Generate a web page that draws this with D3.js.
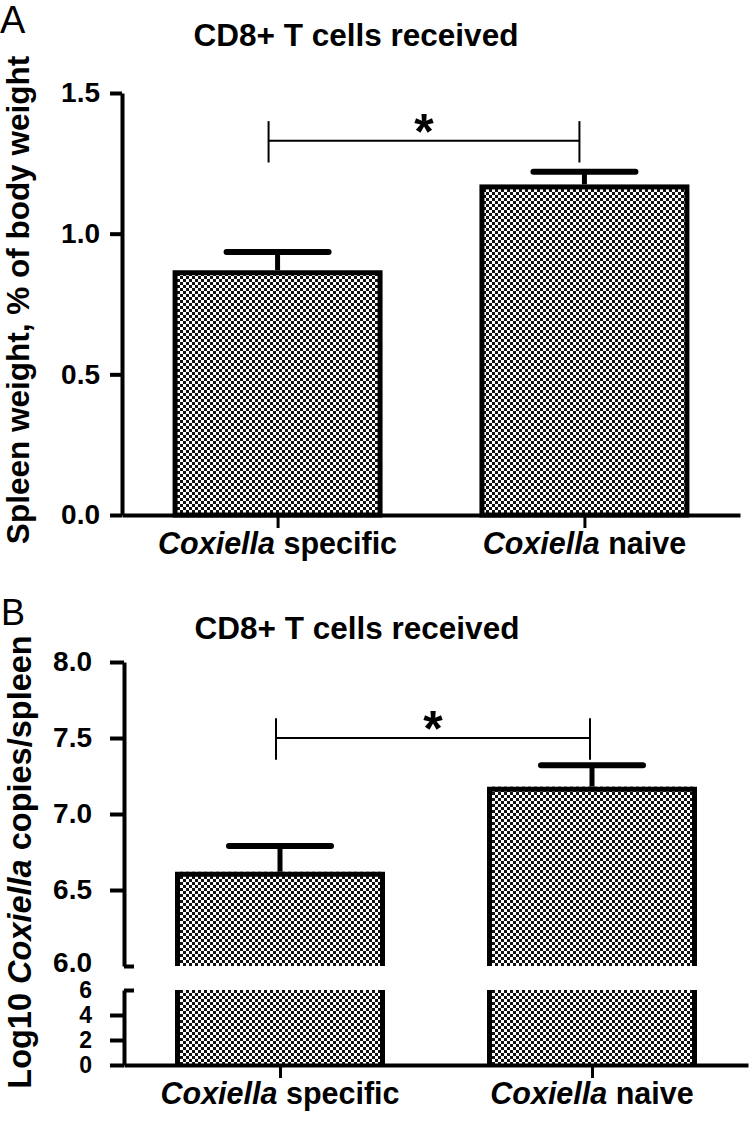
<!DOCTYPE html>
<html>
<head>
<meta charset="utf-8">
<script src="https://cdn.jsdelivr.net/npm/d3@7"></script>
<style>
  html, body { margin: 0; padding: 0; background: #fff; }
  svg { display: block; }
  .lbl { font-family: "Liberation Sans", Arial, sans-serif; font-weight: bold; fill: #000; }
</style>
</head>
<body>
<svg id="chart" width="750" height="1124"></svg>
<script>
// ---- data ----
const categories = ["Coxiella specific", "Coxiella naive"];
const catItalic = ["Coxiella", "Coxiella"];
const catRest = [" specific", " naive"];
const spleenMean = [0.87, 1.175];
const spleenErr = [0.065, 0.045];
const copiesMean = [6.62, 7.18];
const copiesErr = [0.17, 0.14];
const ticksA = [0, 0.5, 1.0, 1.5];
const ticksBUpper = [6.0, 6.5, 7.0, 7.5, 8.0];
const ticksBLower = [0, 2, 4, 6];
const titleText = "CD8+ T cells received";
const sigA = { y: 1.33, arm: 0.07, label: "*" };
const sigB = { y: 7.5, arm: 0.13, label: "*" };

const svg = d3.select("#chart");
const defs = svg.append("defs");
const pat = defs.append("pattern").attr("id", "checker")
  .attr("patternUnits", "userSpaceOnUse").attr("width", 6).attr("height", 6);
pat.append("rect").attr("width", 6).attr("height", 6).attr("fill", "#fff");
pat.append("rect").attr("width", 3).attr("height", 3).attr("fill", "#111");
pat.append("rect").attr("x", 3).attr("y", 3).attr("width", 3).attr("height", 3).attr("fill", "#111");

const FONT = '"Liberation Sans", Arial, sans-serif';
const BW = 210, CAPW = 108, SW = 5;

function styleAxis(g, fs) {
  g.select(".domain").attr("stroke", "#000").attr("stroke-width", 4);
  g.selectAll(".tick line").attr("stroke", "#000").attr("stroke-width", 4);
  g.selectAll(".tick text").attr("font-family", FONT).attr("font-weight", "bold")
    .attr("font-size", fs).attr("fill", "#000");
}

function xLabels(g, x, y) {
  categories.forEach((c, i) => {
    const t = g.append("text").attr("class", "lbl").attr("x", x(c)).attr("y", y)
      .attr("text-anchor", "middle").attr("font-size", 30.5);
    t.append("tspan").attr("font-style", "italic").text(catItalic[i]);
    t.append("tspan").text(catRest[i]);
  });
}

function drawSig(g, x, y, s, off) {
  const x1 = x(categories[0]) - off[0], x2 = x(categories[1]) - off[1];
  g.append("line").attr("x1", x1).attr("x2", x2).attr("y1", y(s.y)).attr("y2", y(s.y))
    .attr("stroke", "#000").attr("stroke-width", 2);
  [x1, x2].forEach(xx => g.append("line").attr("x1", xx).attr("x2", xx)
    .attr("y1", y(s.y + s.arm)).attr("y2", y(s.y - s.arm * 1.1))
    .attr("stroke", "#000").attr("stroke-width", 2));
  g.append("text").attr("x", (x1 + x2) / 2).attr("y", y(s.y) + 8)
    .attr("text-anchor", "middle").attr("font-family", FONT).attr("font-weight", "bold")
    .attr("font-size", 50).text(s.label);
}

function errorBars(g, x, y, means, errs) {
  categories.forEach((c, i) => {
    const cx = x(c);
    g.append("line").attr("x1", cx).attr("x2", cx)
      .attr("y1", y(means[i])).attr("y2", y(means[i] + errs[i]))
      .attr("stroke", "#000").attr("stroke-width", 5);
    g.append("line").attr("x1", cx - CAPW / 2 + 3).attr("x2", cx + CAPW / 2 - 3)
      .attr("y1", y(means[i] + errs[i])).attr("y2", y(means[i] + errs[i]))
      .attr("stroke", "#000").attr("stroke-width", 6).attr("stroke-linecap", "round");
  });
}

// ================= Panel A =================
{
  const g = svg.append("g");
  const y = d3.scaleLinear().domain([0, 1.5]).range([515, 93]);
  const x = d3.scalePoint().domain(categories).range([122, 740]).padding(0.507);

  g.append("text").attr("x", 0).attr("y", 33).attr("font-family", FONT)
    .attr("font-size", 38).text("A");
  g.append("text").attr("class", "lbl").attr("x", 356).attr("y", 46)
    .attr("text-anchor", "middle").attr("font-size", 31.5).text(titleText);
  g.append("text").attr("class", "lbl").attr("transform", "translate(29,300) rotate(-90)")
    .attr("text-anchor", "middle").attr("font-size", 31.5).text("Spleen weight, % of body weight");

  g.selectAll("rect.bar").data(spleenMean).join("rect").attr("class", "bar")
    .attr("x", (d, i) => x(categories[i]) - BW / 2 + SW / 2)
    .attr("width", BW - SW)
    .attr("y", d => y(d) + SW / 2)
    .attr("height", d => y(0) - y(d) - SW / 2)
    .attr("fill", "url(#checker)").attr("stroke", "#000").attr("stroke-width", SW);
  errorBars(g, x, y, spleenMean, spleenErr);

  const ya = g.append("g").attr("transform", "translate(122,0)")
    .call(d3.axisLeft(y).tickValues(ticksA).tickFormat(d3.format(".1f"))
      .tickSize(12).tickSizeOuter(0).tickPadding(10));
  styleAxis(ya, 28);
  const xa = g.append("g").attr("transform", "translate(0,515)")
    .call(d3.axisBottom(x).tickSize(13).tickSizeOuter(0).tickFormat(""));
  xa.select(".domain").attr("stroke", "#000").attr("stroke-width", 4);
  xa.selectAll(".tick line").attr("stroke", "#000").attr("stroke-width", 3);
  xLabels(g, x, 554);
  drawSig(g, x, y, sigA, [9, 5]);
}

// ================= Panel B =================
{
  const g = svg.append("g");
  const yU = d3.scaleLinear().domain([6, 8]).range([966, 662]);
  const yL = d3.scaleLinear().domain([0, 6]).range([1065, 990]);
  const x = d3.scalePoint().domain(categories).range([124, 748]).padding(0.5);

  g.append("text").attr("x", 1).attr("y", 625).attr("font-family", FONT)
    .attr("font-size", 36).text("B");
  g.append("text").attr("class", "lbl").attr("x", 357).attr("y", 639)
    .attr("text-anchor", "middle").attr("font-size", 31.5).text(titleText);
  const yl = g.append("text").attr("class", "lbl").attr("transform", "translate(31,862) rotate(-90)")
    .attr("text-anchor", "middle").attr("font-size", 32.5);
  yl.append("tspan").text("Log10 ");
  yl.append("tspan").attr("font-style", "italic").text("Coxiella");
  yl.append("tspan").text(" copies/spleen");

  copiesMean.forEach((d, i) => {
    const cx = x(categories[i]);
    const l = cx - BW / 2 + SW / 2, r = cx + BW / 2 - SW / 2;
    g.append("rect").attr("x", l).attr("width", r - l).attr("y", yU(d))
      .attr("height", yU(6) - yU(d)).attr("fill", "url(#checker)");
    g.append("path").attr("d", `M${l},${yU(6)}V${yU(d) + SW / 2}H${r}V${yU(6)}`)
      .attr("fill", "none").attr("stroke", "#000").attr("stroke-width", SW);
    g.append("rect").attr("x", l).attr("width", r - l).attr("y", yL(6))
      .attr("height", yL(0) - yL(6)).attr("fill", "url(#checker)");
    g.append("path").attr("d", `M${l},${yL(6)}V${yL(0)}M${r},${yL(6)}V${yL(0)}`)
      .attr("fill", "none").attr("stroke", "#000").attr("stroke-width", SW);
  });
  errorBars(g, x, yU, copiesMean, copiesErr);

  const yaU = g.append("g").attr("transform", "translate(124,0)")
    .call(d3.axisLeft(yU).tickValues(ticksBUpper).tickFormat(d3.format(".1f"))
      .tickSize(14).tickSizeOuter(0).tickPadding(18));
  styleAxis(yaU, 28);
  yaU.selectAll(".tick").filter(d => d === 6).select("text").attr("dy", "0.2em");
  const yaL = g.append("g").attr("transform", "translate(124,0)")
    .call(d3.axisLeft(yL).tickValues(ticksBLower).tickFormat(d3.format("d"))
      .tickSize(14).tickSizeOuter(0).tickPadding(18));
  styleAxis(yaL, 23);
  yaU.selectAll(".tick").filter(d => d === 6).select("line").attr("x2", 10);
  yaL.selectAll(".tick").filter(d => d === 6).select("line").attr("x2", 10);

  const xa = g.append("g").attr("transform", "translate(0,1065)")
    .call(d3.axisBottom(x).tickSize(13).tickSizeOuter(0).tickFormat(""));
  xa.select(".domain").attr("stroke", "#000").attr("stroke-width", 4);
  xa.selectAll(".tick line").attr("stroke", "#000").attr("stroke-width", 3);
  xLabels(g, x, 1104);
  drawSig(g, x, yU, sigB, [4, 2]);
}
</script>
</body>
</html>
